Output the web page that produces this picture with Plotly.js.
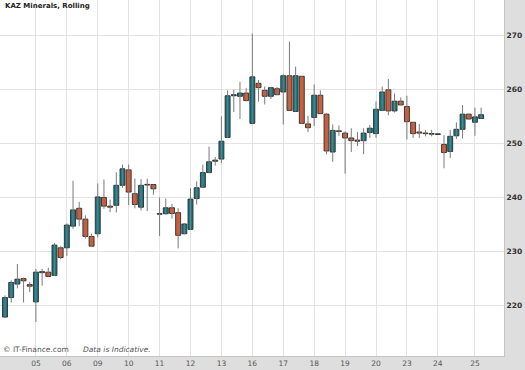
<!DOCTYPE html>
<html>
<head>
<meta charset="utf-8">
<script src="https://cdn.plot.ly/plotly-3.0.1.min.js"></script>
<style>html,body{margin:0;padding:0;background:#dedede;}#chart{width:525px;height:370px;}</style>
</head>
<body>
<div id="chart"></div>
<script>
const openV  = [217.9,221.5,224.0,225.0,223.9,220.7,226.1,226.2,225.6,230.7,230.7,234.7,238.0,236.0,232.8,233.3,240.0,238.4,238.55,242.25,245.1,240.7,238.2,242.4,242.4,237.0,237.0,238.1,237.2,233.3,234.1,239.8,241.9,244.6,246.7,247.1,251.1,258.8,258.7,259.3,253.7,261.1,259.8,258.7,260.1,259.5,262.5,255.9,262.4,253.6,254.8,258.9,255.4,248.4,252.3,251.9,251.0,250.6,250.5,252.0,251.8,256.1,259.9,256.0,257.8,256.8,253.9,252.1,251.8,251.7,251.65,249.8,248.5,251.4,252.6,255.4,253.9,254.6];
const highV  = [221.9,224.7,227.7,225.2,224.4,226.8,226.8,227.0,231.6,231.0,235.2,243.1,239.2,236.7,233.3,242.6,243.3,239.6,244.65,246.1,246.1,243.5,243.4,243.5,242.4,240.0,239.8,238.8,238.0,235.3,241.7,243.0,246.1,249.4,247.5,255.0,259.8,259.9,261.4,260.2,270.3,261.7,260.5,260.4,260.4,262.8,268.8,264.2,262.4,255.1,260.9,259.8,255.6,253.5,253.3,252.2,252.8,252.1,252.8,253.4,257.75,260.5,261.9,259.2,258.5,258.8,253.9,253.6,252.5,252.5,251.65,251.5,252.5,253.9,257.1,255.5,256.6,256.6];
const lowV   = [217.7,220.6,223.2,220.6,222.5,217.0,223.7,225.4,225.5,228.6,229.2,234.2,234.7,232.4,231.0,232.6,237.9,237.3,237.25,241.8,238.6,238.0,237.6,237.5,240.5,232.9,236.8,236.1,230.6,233.2,234.0,238.7,241.8,244.5,245.9,246.4,251.0,255.8,254.5,257.8,253.7,257.7,257.2,258.2,258.9,253.5,256.1,255.9,253.6,252.1,253.2,255.5,248.0,246.6,251.4,244.4,248.4,249.5,248.0,251.0,251.0,256.0,255.2,255.7,257.1,250.7,251.0,251.0,251.3,251.3,251.65,245.4,247.3,250.8,250.9,254.4,251.4,254.5];
const closeV = [221.5,224.3,224.9,224.6,223.6,226.2,226.3,225.4,231.2,228.9,234.9,237.7,236.0,232.8,231.0,240.1,238.4,238.2,242.25,245.3,241.0,238.7,242.25,242.3,241.6,236.9,238.1,237.05,233.0,235.1,239.7,241.8,244.6,246.6,246.9,250.4,258.8,259.0,259.3,257.9,262.3,260.3,258.7,260.3,259.0,262.5,256.1,262.5,253.7,252.9,258.9,255.5,248.6,252.4,252.2,251.0,250.5,250.4,251.9,252.8,256.3,259.5,256.0,257.8,257.1,254.0,251.8,251.9,251.9,251.7,251.65,248.3,251.3,252.6,255.4,254.5,254.9,255.3];
const dayTickIndex = [5,10,15,20,25,30,35,40,45,50,55,60,65,70,76];
const dayTickLabels = ['05','06','09','10','11','12','13','16','17','18','19','20','23','24','25'];
const priceTicks = [220,230,240,250,260,270];

const idx = openV.map((_, i) => i);
const UP = '#127b87', DOWN = '#e0572a';

// wicks
const wx = [], wy = [];
idx.forEach(i => { wx.push(i, i, null); wy.push(highV[i], lowV[i], null); });

const base = idx.map(i => Math.min(openV[i], closeV[i]));
const height = idx.map(i => Math.max(Math.abs(closeV[i] - openV[i]), 0.12));
const colors = idx.map(i => closeV[i] >= openV[i] ? UP : DOWN);

const traces = [
  {type:'scatter', mode:'lines', x:wx, y:wy, line:{color:'#7a7a7a', width:1}, hoverinfo:'skip', showlegend:false},
  {type:'bar', x:idx, y:height, base:base, width:0.8,
   marker:{color:colors, line:{color:'#2a2a2a', width:0.9}}, showlegend:false}
];

const layout = {
  width:525, height:370,
  margin:{l:0, r:21, t:0, b:14, pad:0},
  paper_bgcolor:'#dedede', plot_bgcolor:'#ffffff',
  bargap:0,
  xaxis:{range:[-0.81, 80.7], tickvals:dayTickIndex, ticktext:dayTickLabels,
         showgrid:true, gridcolor:'#e3e3e3', gridwidth:1, zeroline:false,
         ticks:'', tickfont:{family:'DejaVu Sans', size:7.5, color:'#555'},
         showline:true, linecolor:'#c4c4c4', linewidth:1, fixedrange:true},
  yaxis:{range:[210.7, 276.5], side:'right', tickvals:priceTicks,
         showgrid:true, gridcolor:'#e3e3e3', gridwidth:1, zeroline:false,
         ticks:'', tickfont:{family:'DejaVu Sans', size:7.5, color:'#333', weight:'bold'},
         showline:true, linecolor:'#c4c4c4', linewidth:1, fixedrange:true},
  annotations:[
    {xref:'paper', yref:'paper', x:0, y:1, xanchor:'left', yanchor:'top', xshift:3, yshift:0,
     text:'<b>KAZ Minerals, Rolling</b>', showarrow:false,
     font:{family:'DejaVu Sans', size:7, color:'#222'}},
    {xref:'paper', yref:'paper', x:0, y:0, xanchor:'left', yanchor:'bottom', xshift:1, yshift:0,
     text:'© IT-Finance.com', showarrow:false,
     font:{family:'DejaVu Sans', size:7.5, color:'#555'}},
    {xref:'paper', yref:'paper', x:0, y:0, xanchor:'left', yanchor:'bottom', xshift:81, yshift:0,
     text:'<i>Data is Indicative.</i>', showarrow:false,
     font:{family:'DejaVu Sans', size:7.5, color:'#555'}}
  ]
};

Plotly.newPlot('chart', traces, layout, {displayModeBar:false, staticPlot:true});
</script>
</body>
</html>
